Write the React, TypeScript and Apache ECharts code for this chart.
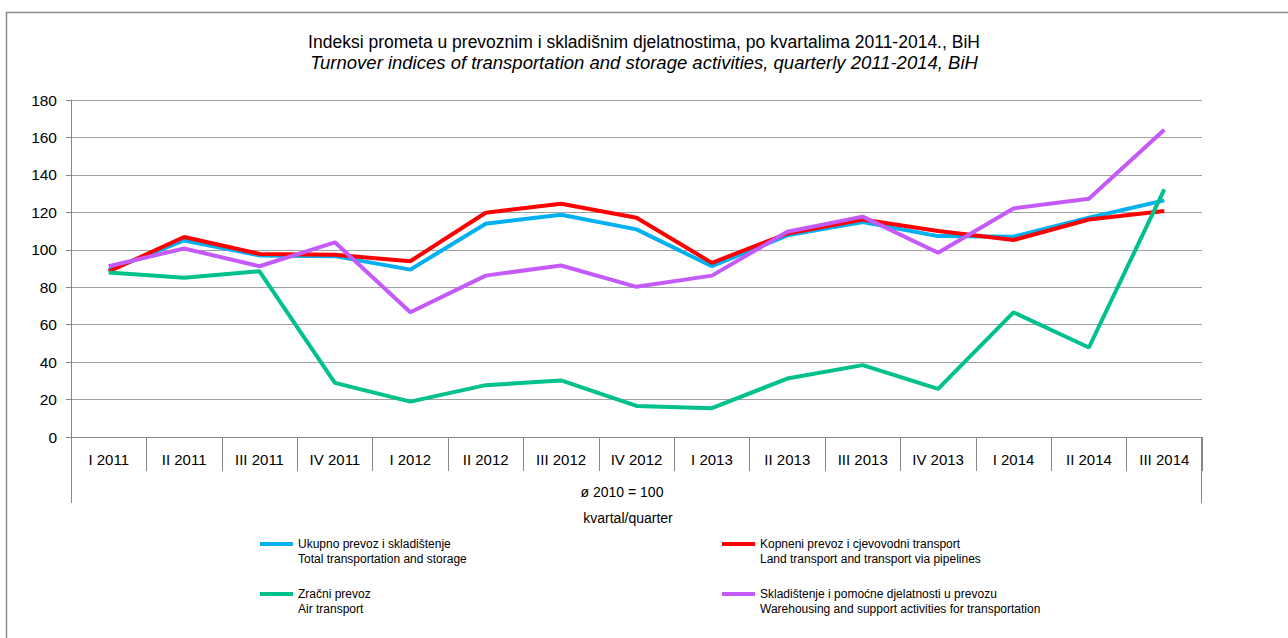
import React, { useEffect, useRef } from "react";
import * as echarts from "echarts";

const categories = [
  "I 2011", "II 2011", "III 2011", "IV 2011",
  "I 2012", "II 2012", "III 2012", "IV 2012",
  "I 2013", "II 2013", "III 2013", "IV 2013",
  "I 2014", "II 2014", "III 2014",
];

const totalValues = [89, 105, 97, 96.6, 89.4, 113.9, 118.7, 110.9, 91.2, 107.7, 114.8, 107.3, 107, 117.1, 126.4];
const landValues = [88.4, 106.8, 97.8, 97.3, 93.9, 119.8, 124.6, 117.1, 93, 108.7, 116.2, 110, 105.2, 116.2, 120.7];
const airValues = [87.8, 85, 88.5, 28.9, 18.9, 27.7, 30.2, 16.6, 15.4, 31.2, 38.4, 25.7, 66.6, 47.8, 132.3];
const warehousingValues = [91.2, 100.7, 91.2, 104, 66.6, 86.2, 91.6, 80.2, 86.2, 109.6, 117.7, 98.4, 122.1, 127.3, 164.1];

const seriesNames = [
  "Ukupno prevoz i skladištenje\nTotal transportation and storage",
  "Kopneni prevoz i cjevovodni transport\nLand transport and transport via pipelines",
  "Zračni prevoz\nAir transport",
  "Skladištenje i pomoćne djelatnosti u prevozu\nWarehousing and support activities for transportation",
];
const seriesColors = ["#00B0F0", "#FF0000", "#00C08C", "#C55AFB"];

const yTicks = { min: 0, max: 180, interval: 20 };

const titleText = "Indeksi prometa u prevoznim i skladišnim djelatnostima, po kvartalima 2011-2014., BiH";
const subtitleText = "Turnover indices of transportation and storage activities, quarterly 2011-2014, BiH";
const baseLabel = "ø 2010 = 100";
const axisTitle = "kvartal/quarter";

const FONT = "Liberation Sans";
const GRID = { left: 71, top: 100, width: 1131, height: 337 };
const LEGEND_ICON = "path://M0,0M0,6L33,6L33,10L0,10ZM33,30";

export default function App() {
  const ref = useRef<HTMLDivElement>(null);

  useEffect(() => {
    if (!ref.current) return;
    const chart = echarts.init(ref.current, null, { renderer: "svg" });
    const valueSets = [totalValues, landValues, airValues, warehousingValues];

    const legendCommon = {
      orient: "vertical",
      itemWidth: 33,
      itemHeight: 30,
      itemGap: 20,
      padding: 0,
      icon: LEGEND_ICON,
      itemStyle: { borderWidth: 0 },
      selectedMode: false,
      textStyle: { fontFamily: FONT, fontSize: 12, lineHeight: 15, color: "#000" },
    };

    chart.setOption({
      animation: false,
      backgroundColor: "#fff",
      title: {
        left: "center",
        top: 28,
        text: titleText,
        subtext: subtitleText,
        itemGap: 2,
        textStyle: { fontFamily: FONT, fontSize: 17.5, fontWeight: "normal", color: "#000" },
        subtextStyle: { fontFamily: FONT, fontSize: 18.5, fontStyle: "italic", color: "#000" },
      },
      legend: [
        { ...legendCommon, left: 260, top: 536, data: [seriesNames[0], seriesNames[2]] },
        { ...legendCommon, left: 722, top: 536, data: [seriesNames[1], seriesNames[3]] },
      ],
      grid: { ...GRID, containLabel: false },
      xAxis: {
        type: "category",
        data: categories,
        boundaryGap: true,
        axisLine: { show: true, lineStyle: { color: "#868686", width: 1 } },
        axisTick: { show: true, length: 34, lineStyle: { color: "#868686" } },
        axisLabel: { fontFamily: FONT, fontSize: 15, color: "#000", margin: 15 },
        splitLine: { show: false },
      },
      yAxis: {
        type: "value",
        min: yTicks.min,
        max: yTicks.max,
        interval: yTicks.interval,
        axisLine: { show: true, lineStyle: { color: "#868686", width: 1 } },
        axisTick: { show: true, length: 5, lineStyle: { color: "#868686" } },
        axisLabel: { fontFamily: FONT, fontSize: 15.5, color: "#000", margin: 14 },
        splitLine: { show: true, lineStyle: { color: "#A0A0A0", width: 1 } },
      },
      series: seriesNames.map((name, i) => ({
        name,
        type: "line",
        data: valueSets[i],
        symbol: "none",
        showSymbol: false,
        lineStyle: { color: seriesColors[i], width: 4 },
        itemStyle: { color: seriesColors[i] },
        z: 2 + i,
      })),
      graphic: [
        {
          type: "rect",
          silent: true,
          shape: { x: 6.5, y: 12.5, width: 1400, height: 800 },
          style: { fill: "none", stroke: "#8C8C8C", lineWidth: 1.5 },
          z: -1,
        },
        {
          type: "line",
          silent: true,
          shape: { x1: GRID.left + 0.5, y1: GRID.top + GRID.height, x2: GRID.left + 0.5, y2: 503 },
          style: { stroke: "#868686", lineWidth: 1 },
        },
        {
          type: "line",
          silent: true,
          shape: {
            x1: GRID.left + GRID.width - 0.5, y1: GRID.top + GRID.height,
            x2: GRID.left + GRID.width - 0.5, y2: 503,
          },
          style: { stroke: "#868686", lineWidth: 1 },
        },
        {
          type: "text",
          silent: true,
          x: 622,
          y: 492,
          style: {
            text: baseLabel, fontFamily: FONT, fontSize: 14, fill: "#000",
            align: "center", verticalAlign: "middle",
          },
        },
        {
          type: "text",
          silent: true,
          x: 628,
          y: 518,
          style: {
            text: axisTitle, fontFamily: FONT, fontSize: 14, fill: "#000",
            align: "center", verticalAlign: "middle",
          },
        },
      ],
    });

    return () => chart.dispose();
  }, []);

  return (
    <div
      ref={ref}
      style={{ position: "absolute", left: 0, top: 0, width: 1288, height: 638 }}
    />
  );
}
